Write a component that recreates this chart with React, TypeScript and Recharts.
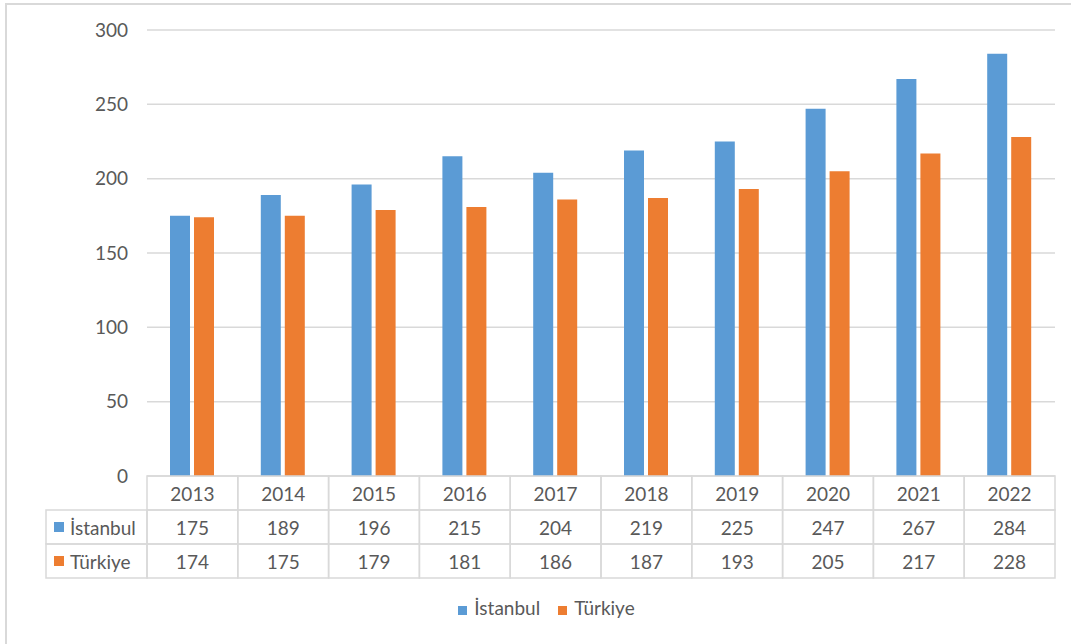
import React from "react";
import { ComposedChart, Bar, XAxis, YAxis, CartesianGrid, Legend } from "recharts";

const years = ["2013", "2014", "2015", "2016", "2017", "2018", "2019", "2020", "2021", "2022"];
const istanbul = [175, 189, 196, 215, 204, 219, 225, 247, 267, 284];
const turkiye = [174, 175, 179, 181, 186, 187, 193, 205, 217, 228];
const yTicks = [0, 50, 100, 150, 200, 250, 300];
const seriesNames = ["İstanbul", "Türkiye"];
const seriesColors = ["#5B9BD5", "#ED7D31"];

const data = years.map((y, i) => ({ year: y, istanbul: istanbul[i], turkiye: turkiye[i] }));

const W = 1071;
const H = 644;
const MARGIN = { top: 30, right: 16, bottom: 25, left: 0 };
const Y_W = 147;
const X_H = 120;
const ROW_H = 34;
const LABEL_W = 101;
const GRID = "#D9D9D9";
const TEXT = "#595959";
const FONT = "Lato, 'Open Sans', sans-serif";
const FS = 19;

const bandW = (W - MARGIN.left - MARGIN.right - Y_W) / years.length;

const TableTick = (props: any) => {
  const { x, y, payload } = props;
  const i: number = payload.index;
  const half = payload.offset && payload.offset > 0 ? payload.offset : bandW / 2;
  const left = x - half;
  const w = half * 2;
  const rows = [years[i], String(istanbul[i]), String(turkiye[i])];
  return (
    <g>
      {rows.map((t, r) => (
        <g key={r}>
          <rect x={left} y={y + r * ROW_H} width={w} height={ROW_H} fill="none" stroke={GRID} strokeWidth={1.5} />
          <text
            x={x}
            y={y + r * ROW_H + ROW_H / 2}
            textAnchor="middle"
            dominantBaseline="central"
            fill={TEXT}
            fontSize={FS}
            fontFamily={FONT}
          >
            {t}
          </text>
        </g>
      ))}
      {i === 0 &&
        seriesNames.map((n, r) => (
          <g key={"l" + r}>
            <rect
              x={left - LABEL_W}
              y={y + (r + 1) * ROW_H}
              width={LABEL_W}
              height={ROW_H}
              fill="none"
              stroke={GRID}
              strokeWidth={1.5}
            />
            <rect x={left - LABEL_W + 8} y={y + (r + 1) * ROW_H + ROW_H / 2 - 5} width={10} height={10} fill={seriesColors[r]} />
            <text
              x={left - LABEL_W + 24}
              y={y + (r + 1) * ROW_H + ROW_H / 2}
              textAnchor="start"
              dominantBaseline="central"
              fill={TEXT}
              fontSize={FS}
              fontFamily={FONT}
            >
              {n}
            </text>
          </g>
        ))}
    </g>
  );
};

export default function App() {
  return (
    <div style={{ position: "absolute", left: 0, top: 0, width: W, height: H, background: "#fff", overflow: "hidden" }}>
      <div
        style={{
          position: "absolute",
          left: 5,
          top: 3,
          width: W - 5,
          height: H - 3,
          borderLeft: `2px solid ${GRID}`,
          borderTop: `2px solid ${GRID}`,
          boxSizing: "border-box",
        }}
      />
      <div style={{ position: "absolute", left: 0, top: 0 }}>
        <ComposedChart width={W} height={H} data={data} margin={MARGIN} barSize={20} barGap={4}>
          <CartesianGrid vertical={false} stroke={GRID} strokeWidth={1.5} />
          <XAxis
            dataKey="year"
            height={X_H}
            axisLine={false}
            tickLine={false}
            tickSize={0}
            tickMargin={0}
            interval={0}
            tick={<TableTick />}
          />
          <YAxis
            width={Y_W}
            domain={[0, 300]}
            ticks={yTicks}
            axisLine={false}
            tickLine={false}
            tickSize={6}
            tickMargin={13}
            tick={{ fill: TEXT, fontSize: FS, fontFamily: FONT }}
          />
          <Legend
            verticalAlign="bottom"
            align="center"
            iconType="square"
            iconSize={9}
            itemSorter="dataKey"
            wrapperStyle={{ fontFamily: FONT, fontSize: FS, paddingLeft: 56, boxSizing: "border-box" }}
            formatter={(v: string) => <span style={{ color: TEXT, marginLeft: 3, marginRight: 8 }}>{v}</span>}
          />
          <Bar dataKey="istanbul" name={seriesNames[0]} fill={seriesColors[0]} isAnimationActive={false} />
          <Bar dataKey="turkiye" name={seriesNames[1]} fill={seriesColors[1]} isAnimationActive={false} />
        </ComposedChart>
      </div>
    </div>
  );
}
